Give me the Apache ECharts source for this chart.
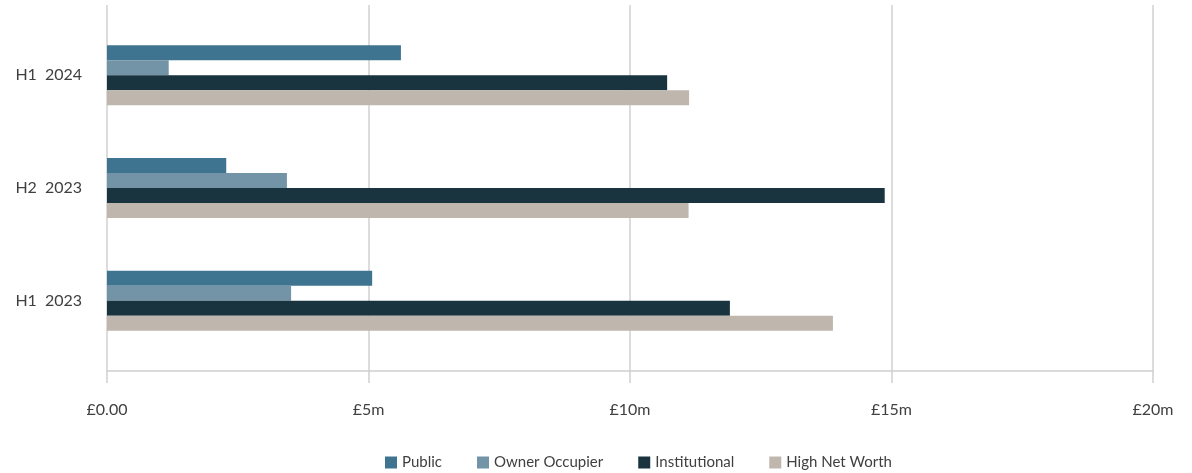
<!DOCTYPE html>
<html><head><meta charset="utf-8">
<script src="https://cdn.jsdelivr.net/npm/echarts@6/dist/echarts.min.js"></script>
<style>html,body{margin:0;padding:0;background:#fff}#c{width:1192px;height:473px}</style>
</head><body><div id="c"></div>
<script>
const categories = ['H1 2023', 'H2 2023', 'H1 2024'];
const seriesNames = ['Public', 'Owner Occupier', 'Institutional', 'High Net Worth'];
const publicVals = [5.07, 2.28, 5.62];
const ownerOccupierVals = [3.52, 3.44, 1.18];
const institutionalVals = [11.91, 14.87, 10.71];
const highNetWorthVals = [13.88, 11.12, 11.13];
const xTickLabels = {0: '£0.00', 5: '£5m', 10: '£10m', 15: '£15m', 20: '£20m'};
const colors = ['#3e7490', '#7393a7', '#19333f', '#bfb6ad'];
const values = [publicVals, ownerOccupierVals, institutionalVals, highNetWorthVals];
const font = 'Lato, "Open Sans", sans-serif';
const gridColor = '#d0d0d0';
const chart = echarts.init(document.getElementById('c'));
chart.setOption({
  animation: false,
  textStyle: {fontFamily: font},
  grid: [
    {left: 107, right: 39, top: 5, bottom: 102, containLabel: false},
    {left: 107, right: 39, top: 19, bottom: 116, containLabel: false}
  ],
  legend: {
    top: 450, left: 380, itemWidth: 12, itemHeight: 12, itemGap: 35,
    icon: 'rect',
    textStyle: {fontSize: 15, color: '#404040', fontFamily: font},
    data: seriesNames
  },
  xAxis: [{
    gridIndex: 0, type: 'value', min: 0, max: 20, interval: 5,
    axisLine: {show: true, lineStyle: {color: gridColor, width: 1.5}},
    axisTick: {show: true, length: 12, lineStyle: {color: gridColor, width: 1.5}},
    splitLine: {show: true, lineStyle: {color: gridColor, width: 1.5}},
    axisLabel: {fontSize: 16, color: '#404040', margin: 31, formatter: v => xTickLabels[v]}
  }, {
    gridIndex: 1, type: 'value', min: 0, max: 20, interval: 5,
    axisLine: {show: false}, axisTick: {show: false}, splitLine: {show: false}, axisLabel: {show: false}
  }],
  yAxis: [{
    gridIndex: 0, type: 'category', data: categories,
    axisLine: {show: false}, axisTick: {show: false}, axisLabel: {show: false}, splitLine: {show: false}
  }, {
    gridIndex: 1, type: 'category', data: categories,
    axisLine: {show: false}, axisTick: {show: false},
    axisLabel: {fontSize: 16, color: '#404040', margin: 25, formatter: v => v.replace(' ', '\u2002')}
  }],
  series: seriesNames.map((n, i) => ({
    name: n, type: 'bar', data: values[i], xAxisIndex: 1, yAxisIndex: 1,
    itemStyle: {color: colors[i]},
    barWidth: 15, barGap: '0%'
  }))
});
</script></body></html>
